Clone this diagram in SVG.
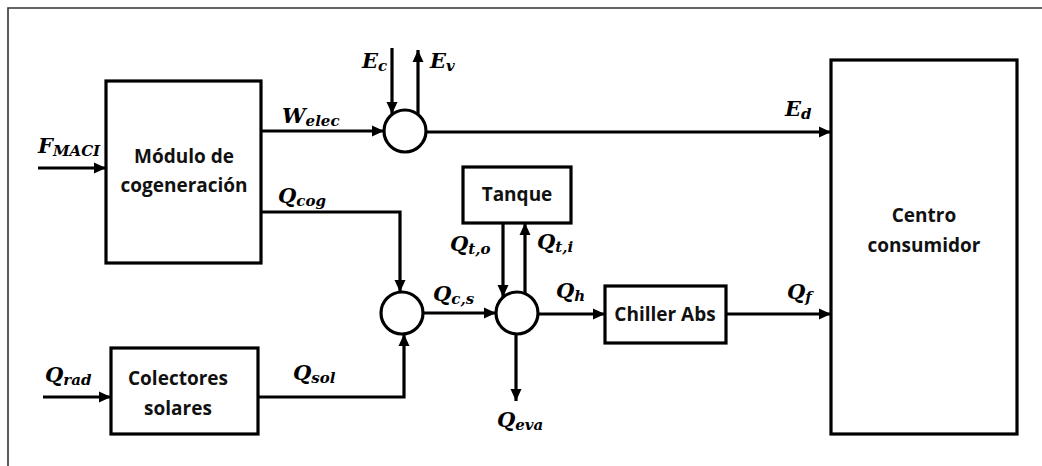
<svg xmlns="http://www.w3.org/2000/svg" width="1042" height="466" viewBox="0 0 1042 466">
<style>
.box{fill:#fff;stroke:#000;stroke-width:3.2}
.frame{fill:none;stroke:#333;stroke-width:1.6}
.ln{fill:none;stroke:#000;stroke-width:3.2}
.t{font-family:"Open Sans","Noto Sans",sans-serif;font-weight:bold;font-size:19px;fill:#111;text-anchor:middle}
.m{font-family:"DejaVu Serif","Liberation Serif",serif;font-weight:bold;font-style:italic;font-size:21px;fill:#000}
.s{font-size:15px}
</style>
<defs>
<marker id="ah" markerUnits="userSpaceOnUse" markerWidth="12" markerHeight="12" refX="12" refY="6" orient="auto">
<path d="M0,0.5 L12,6 L0,11.5 z" fill="#000"/>
</marker>
</defs>
<rect width="1042" height="466" fill="#fff"/>
<path class="frame" d="M8,466 V8 H1042"/>

<g id="modulo">
<rect class="box" x="106" y="81" width="155" height="182"/>
<text class="t" x="184" y="163">Módulo de</text>
<text class="t" x="184" y="192">cogeneración</text>
</g>
<g id="colectores">
<rect class="box" x="111" y="348" width="147" height="86"/>
<text class="t" x="178" y="385">Colectores</text>
<text class="t" x="178" y="415">solares</text>
</g>
<g id="tanque">
<rect class="box" x="463" y="167" width="108" height="56"/>
<text class="t" x="517" y="201">Tanque</text>
</g>
<g id="chiller">
<rect class="box" x="605" y="286" width="121" height="57"/>
<text class="t" x="665" y="321">Chiller Abs</text>
</g>
<g id="centro">
<rect class="box" x="831" y="60" width="186" height="374"/>
<text class="t" x="924" y="222">Centro</text>
<text class="t" x="924" y="252">consumidor</text>
</g>
<g id="nodo1"><circle class="box" cx="405" cy="131" r="21"/></g>
<g id="nodo2"><circle class="box" cx="402" cy="313" r="21"/></g>
<g id="nodo3"><circle class="box" cx="517" cy="313" r="21"/></g>

<g id="connectors">
<line class="ln" x1="38" y1="168" x2="106" y2="168" marker-end="url(#ah)"/>
<line class="ln" x1="261" y1="131" x2="384" y2="131" marker-end="url(#ah)"/>
<line class="ln" x1="392" y1="48" x2="392" y2="114" marker-end="url(#ah)"/>
<line class="ln" x1="418" y1="115" x2="418" y2="50" marker-end="url(#ah)"/>
<line class="ln" x1="426" y1="132" x2="831" y2="132" marker-end="url(#ah)"/>
<path class="ln" d="M261,212 H400 V292" marker-end="url(#ah)"/>
<path class="ln" d="M258,397 H404 V334" marker-end="url(#ah)"/>
<line class="ln" x1="43" y1="397" x2="111" y2="397" marker-end="url(#ah)"/>
<line class="ln" x1="423" y1="313" x2="496" y2="313" marker-end="url(#ah)"/>
<line class="ln" x1="503" y1="223" x2="503" y2="297" marker-end="url(#ah)"/>
<line class="ln" x1="525" y1="294" x2="525" y2="223" marker-end="url(#ah)"/>
<line class="ln" x1="516" y1="334" x2="516" y2="401" marker-end="url(#ah)"/>
<line class="ln" x1="538" y1="314" x2="605" y2="314" marker-end="url(#ah)"/>
<line class="ln" x1="726" y1="314" x2="831" y2="314" marker-end="url(#ah)"/>
</g>

<g id="labels">
<text class="m" x="38" y="153">F<tspan class="s" dy="3">MACI</tspan></text>
<text class="m" x="282" y="123">W<tspan class="s" dy="3">elec</tspan></text>
<text class="m" x="362" y="68">E<tspan class="s" dy="3">c</tspan></text>
<text class="m" x="430" y="68">E<tspan class="s" dy="3">v</tspan></text>
<text class="m" x="785" y="116">E<tspan class="s" dy="3">d</tspan></text>
<text class="m" x="278" y="203">Q<tspan class="s" dy="3">cog</tspan></text>
<text class="m" x="433" y="301">Q<tspan class="s" dy="3">c,s</tspan></text>
<text class="m" x="450" y="251">Q<tspan class="s" dy="3">t,o</tspan></text>
<text class="m" x="537" y="249">Q<tspan class="s" dy="3">t,i</tspan></text>
<text class="m" x="556" y="298">Q<tspan class="s" dy="3">h</tspan></text>
<text class="m" x="787" y="299">Q<tspan class="s" dy="3">f</tspan></text>
<text class="m" x="293" y="380">Q<tspan class="s" dy="3">sol</tspan></text>
<text class="m" x="45" y="382">Q<tspan class="s" dy="3">rad</tspan></text>
<text class="m" x="497" y="427">Q<tspan class="s" dy="3">eva</tspan></text>
</g>
</svg>
